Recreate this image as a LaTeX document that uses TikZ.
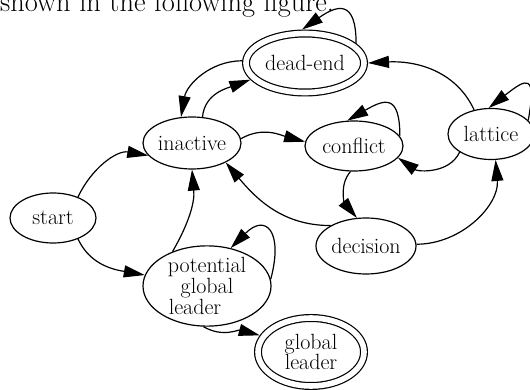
\documentclass[tikz,border=0pt]{standalone}
\usepackage{tikz}
\usetikzlibrary{shapes.geometric, arrows.meta}
\newcommand{\stateSty}{\fontsize{22}{17.5}\selectfont}
\newcommand{\proseSty}{\fontsize{28.4}{32}\selectfont}

\begin{document}
\begin{tikzpicture}[x=1pt, y=-1pt,
		state/.style={ellipse, draw, line width=1.2pt, inner sep=0pt, align=center, font=\stateSty},
		final/.style={state, double, double distance=5.6pt, outer sep=4pt},
		trans/.style={line width=1.2pt, -{Triangle[length=21pt, width=12pt]}}]

		% page
		\useasboundingbox (0,0) rectangle (530,390);

		% text above the figure
		\node[anchor=base west, font=\proseSty, inner sep=0pt] (prose) at (0,12) {shown in the following figure.};

		% states
		\node[state, minimum width=86pt, minimum height=50pt] (start) at (53,218) {start};
		\node[state, minimum width=98pt, minimum height=52pt] (inactive) at (192,143) {inactive};
		\node[final, minimum width=118pt, minimum height=59pt] (deadend) at (305,63) {dead-end};
		\node[state, minimum width=98pt, minimum height=50pt] (conflict) at (354,146) {conflict};
		\node[state, minimum width=86pt, minimum height=51pt] (lattice) at (491,134) {lattice};
		\node[state, minimum width=100pt, minimum height=56pt] (decision) at (366,246) {decision};
		\node[state, minimum width=128pt, minimum height=68pt] (potential) at (207,286) {potential\\global\\leader\hspace*{24pt}};
		\node[final, minimum width=106pt, minimum height=68pt] (global) at (311,352) {global\\leader};

		% out of start
		\draw[trans] (start.40) to[out=65, in=170] (inactive.196);
		\draw[trans] (start.-40) to[out=-65, in=170] (potential.170);

		% out of potential global leader
		\draw[trans] (potential.135) to[out=60, in=-85] (inactive.270);
		\draw[trans] (potential.6) to[out=75, in=45, looseness=2.5] (potential.58);
		\draw[trans] (potential.-95) to[out=-30, in=165] (global.162);

		% inactive and dead-end
		\draw[trans] (inactive.68) to[out=85, in=200] (deadend.197);
		\draw[trans] (deadend.178) to[out=180, in=80] (inactive.113);
		\draw[trans] (deadend.21) to[out=90, in=35, looseness=2] (deadend.95);

		% inactive, conflict, decision
		\draw[trans] (inactive.5) to[out=30, in=165] (conflict.175);
		\draw[trans] (conflict.12) to[out=90, in=30, looseness=2] (conflict.105);
		\draw[trans] (conflict.262) to[out=-130, in=130] (decision.108);
		\draw[trans] (decision.150) to[out=180, in=-50] (inactive.-30);

		% lattice
		\draw[trans] (decision.2) to[out=0, in=-85] (lattice.-80);
		\draw[trans] (lattice.210) to[out=-115, in=-35] (conflict.-15);
		\draw[trans] (lattice.125) to[out=115, in=3] (deadend.0);
		\draw[trans] (lattice.20) to[out=80, in=38, looseness=3] (lattice.95);

\end{tikzpicture}
\end{document}
